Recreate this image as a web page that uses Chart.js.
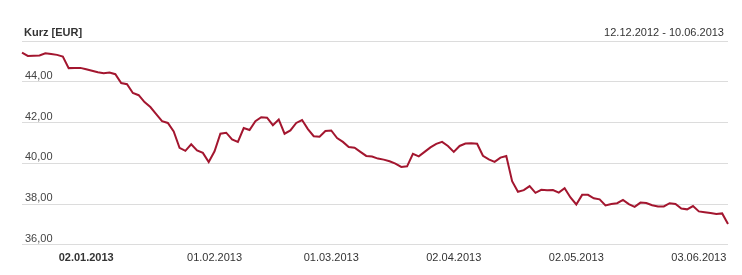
<!DOCTYPE html>
<html>
<head>
<meta charset="utf-8">
<script src="https://cdn.jsdelivr.net/npm/chart.js@4"></script>
<style>
  html, body { margin: 0; padding: 0; background: #fff; }
  #wrap { position: relative; width: 742px; height: 275px; }
  canvas { position: absolute; left: 0; top: 0; }
  .hdr { position: absolute; top: 26px; font: 11px "Liberation Sans", Arial, sans-serif; line-height: 13px; color: #333; }
  #hl { left: 24px; font-weight: bold; }
  #hr { right: 18px; }
</style>
</head>
<body>
<div id="wrap">
  <canvas id="c" width="742" height="275"></canvas>
  <div class="hdr" id="hl">Kurz [EUR]</div>
  <div class="hdr" id="hr">12.12.2012 - 10.06.2013</div>
</div>
<script>
const dates = [
  '12.12.2012','13.12.2012','14.12.2012','17.12.2012','18.12.2012','19.12.2012','20.12.2012','21.12.2012','27.12.2012','28.12.2012','31.12.2012',
  '02.01.2013','03.01.2013','04.01.2013','07.01.2013','08.01.2013','09.01.2013','10.01.2013','11.01.2013','14.01.2013','15.01.2013','16.01.2013','17.01.2013','18.01.2013','21.01.2013','22.01.2013','23.01.2013','24.01.2013','25.01.2013','28.01.2013','29.01.2013','30.01.2013','31.01.2013',
  '01.02.2013','04.02.2013','05.02.2013','06.02.2013','07.02.2013','08.02.2013','11.02.2013','12.02.2013','13.02.2013','14.02.2013','15.02.2013','18.02.2013','19.02.2013','20.02.2013','21.02.2013','22.02.2013','25.02.2013','26.02.2013','27.02.2013','28.02.2013',
  '01.03.2013','04.03.2013','05.03.2013','06.03.2013','07.03.2013','08.03.2013','11.03.2013','12.03.2013','13.03.2013','14.03.2013','15.03.2013','18.03.2013','19.03.2013','20.03.2013','21.03.2013','22.03.2013','25.03.2013','26.03.2013','27.03.2013','28.03.2013','01.04.2013',
  '02.04.2013','03.04.2013','04.04.2013','05.04.2013','08.04.2013','09.04.2013','10.04.2013','11.04.2013','12.04.2013','15.04.2013','16.04.2013','17.04.2013','18.04.2013','19.04.2013','22.04.2013','23.04.2013','24.04.2013','25.04.2013','26.04.2013','29.04.2013','30.04.2013',
  '02.05.2013','03.05.2013','06.05.2013','07.05.2013','08.05.2013','09.05.2013','10.05.2013','13.05.2013','14.05.2013','15.05.2013','16.05.2013','17.05.2013','21.05.2013','22.05.2013','23.05.2013','24.05.2013','27.05.2013','28.05.2013','29.05.2013','30.05.2013','31.05.2013',
  '03.06.2013','04.06.2013','05.06.2013','06.06.2013','07.06.2013','10.06.2013'
];

const kurs = [
  45.43,45.27,45.28,45.29,45.40,45.36,45.32,45.24,44.67,44.68,44.68,
  44.61,44.54,44.47,44.42,44.45,44.37,43.94,43.88,43.45,43.34,43.00,42.76,42.41,42.07,41.98,41.56,40.76,40.61,40.93,40.63,40.51,40.06,
  40.59,41.45,41.50,41.17,41.05,41.73,41.63,42.06,42.26,42.24,41.87,42.15,41.45,41.61,41.98,42.12,41.68,41.33,41.30,41.58,
  41.61,41.24,41.05,40.80,40.76,40.56,40.36,40.33,40.23,40.18,40.10,39.98,39.82,39.85,40.46,40.34,40.56,40.78,40.95,41.05,40.85,
  40.56,40.85,40.97,40.98,40.96,40.37,40.19,40.07,40.28,40.36,39.12,38.60,38.68,38.88,38.55,38.70,38.68,38.69,38.56,38.78,38.32,
  37.98,38.45,38.45,38.28,38.23,37.93,38.00,38.04,38.20,38.00,37.86,38.07,38.05,37.94,37.88,37.88,38.04,38.00,37.78,37.74,37.90,
  37.64,37.60,37.56,37.51,37.54,37.02
];

const xTickLabels = ['02.01.2013','01.02.2013','01.03.2013','02.04.2013','02.05.2013','03.06.2013'];
const boldTickLabel = '02.01.2013';
const yTicks = [36, 38, 40, 42, 44, 46];

const FONT = '"Liberation Sans", Arial, sans-serif';

new Chart(document.getElementById('c'), {
  type: 'line',
  data: {
    labels: dates,
    datasets: [{
      data: kurs,
      borderColor: '#a3162f',
      borderWidth: 2,
      pointRadius: 0,
      tension: 0,
      fill: false
    }]
  },
  options: {
    responsive: false,
    animation: false,
    devicePixelRatio: 1,
    layout: { padding: { left: 16, right: 14, top: 41, bottom: 3 } },
    plugins: { legend: { display: false }, tooltip: { enabled: false }, title: { display: false } },
    scales: {
      x: {
        type: 'category',
        offset: false,
        border: { display: false },
        grid: { display: false, drawTicks: false },
        ticks: {
          autoSkip: false,
          maxRotation: 0,
          minRotation: 0,
          padding: 7,
          color: '#333',
          font: (ctx) => ({ family: FONT, size: 11, weight: (ctx.tick && ctx.tick.label === boldTickLabel) ? 'bold' : 'normal' }),
          callback: function(value) {
            const l = this.getLabelForValue(value);
            return xTickLabels.includes(l) ? l : '';
          }
        }
      },
      y: {
        min: yTicks[0],
        max: yTicks[yTicks.length - 1],
        border: { display: false },
        grid: { color: '#dcdcdc', lineWidth: 1, drawTicks: false },
        afterBuildTicks: (axis) => { axis.ticks = yTicks.map(v => ({ value: v })); },
        ticks: {
          mirror: true,
          padding: 3,
          labelOffset: -6,
          color: '#444',
          font: { family: FONT, size: 11 },
          callback: (v) => v === yTicks[yTicks.length - 1] ? '' : v.toFixed(2).replace('.', ',')
        }
      }
    }
  }
});
</script>
</body>
</html>
